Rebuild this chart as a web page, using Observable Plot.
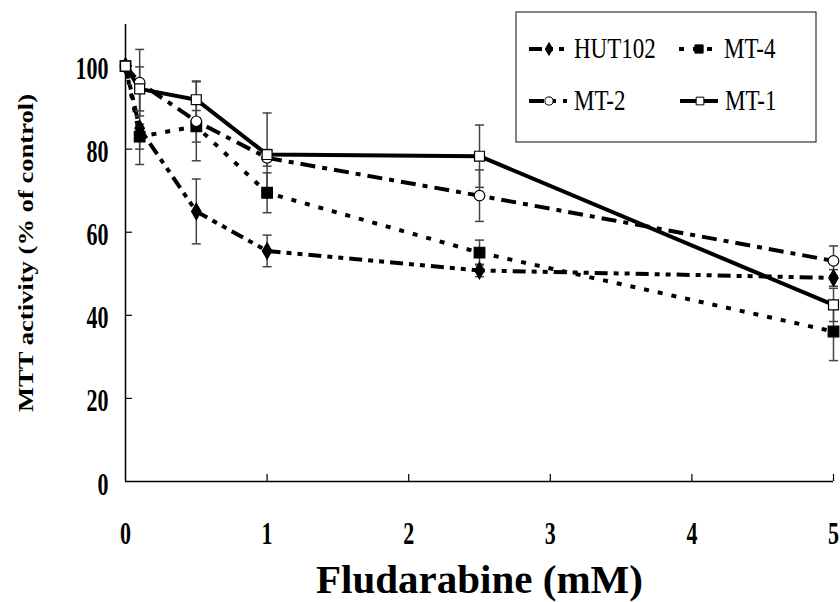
<!DOCTYPE html>
<html>
<head>
<meta charset="utf-8">
<script src="https://cdn.jsdelivr.net/npm/d3@7"></script>
<script src="https://cdn.jsdelivr.net/npm/@observablehq/plot@0.6"></script>
<style>
  html, body { margin: 0; padding: 0; background: #fff; }
  #chart { width: 840px; height: 602px; }
</style>
</head>
<body>
<div id="chart"></div>
<script>
// ---- data ----
const doses = [0, 0.1, 0.5, 1, 2.5, 5];               // Fludarabine (mM)
const hut102 = [100, 85, 65, 55.5, 50.8, 49];
const hut102Err = [0, 8.7, 7.8, 3.8, 1.5, 2];
const mt4 = [100, 83, 85.5, 69.5, 55.1, 36.1];
const mt4Err = [0, 3, 3.8, 4.8, 3, 7];
const mt2 = [100, 96, 86.7, 77.9, 68.8, 53.1];
const mt2Err = [0, 8, 9.5, 2, 6.2, 3.6];
const mt1 = [100, 94.5, 91.9, 78.7, 78.3, 42.5];
const mt1Err = [0, 5.3, 4.5, 10, 7.5, 4];
const seriesNames = ["HUT102", "MT-4", "MT-2", "MT-1"];
const xTicks = [0, 1, 2, 3, 4, 5];
const yTicks = [0, 20, 40, 60, 80, 100];
const xTitle = "Fludarabine (mM)";
const yTitle = "MTT activity (% of control)";

// ---- build table ----
const valuesBySeries = {"HUT102": [hut102, hut102Err], "MT-4": [mt4, mt4Err], "MT-2": [mt2, mt2Err], "MT-1": [mt1, mt1Err]};
const rows = [];
for (const s of seriesNames) {
  const [v, e] = valuesBySeries[s];
  doses.forEach((d, i) => rows.push({series: s, dose: d, value: v[i], err: e[i]}));
}
const errRows = rows.filter(d => d.err > 0);
const capRows = errRows.flatMap(d => [{dose: d.dose, y: d.value + d.err}, {dose: d.dose, y: d.value - d.err}]);

const styles = {
  "HUT102": {dash: "13,6,5,6,5,6", symbol: "diamond", fill: "#000", r: 5},
  "MT-4":   {dash: "5,9", symbol: "square", fill: "#000", r: 6},
  "MT-2":   {dash: "15,7,5,7", symbol: "circle", fill: "#fff", r: 5.3},
  "MT-1":   {dash: null, symbol: "square", fill: "#fff", r: 5.6}
};

const capSymbol = {draw(ctx, size) { const h = Math.sqrt(size / Math.PI); ctx.moveTo(-h, 0); ctx.lineTo(h, 0); }};

const font = "'Liberation Serif', 'Times New Roman', serif";

const marks = [
  Plot.ruleY([0], {stroke: "#000", strokeWidth: 1.5}),
  Plot.ruleX([0], {y1: 0, y2: 110, stroke: "#000", strokeWidth: 1.5}),
  Plot.ruleY(yTicks.slice(1), {x1: 0, x2: 0.05, stroke: "#000", strokeWidth: 1.2}),
  Plot.ruleX(xTicks.slice(1), {y1: 0, y2: 1.7, stroke: "#000", strokeWidth: 1.2}),
  Plot.text(yTicks, {x: 0, y: d => d, text: d => String(d), dx: -17, dy: 13, textAnchor: "end", lineAnchor: "bottom", fontSize: 22, fontWeight: "bold", fill: "#000"}),
  Plot.text(xTicks, {x: d => d, y: 0, text: d => String(d), dy: 62, textAnchor: "middle", lineAnchor: "bottom", fontSize: 22, fontWeight: "bold", fill: "#000"}),
  Plot.text([xTitle], {frameAnchor: "bottom", textAnchor: "middle", lineAnchor: "middle", dy: 98, fontSize: 41, fontWeight: "bold", fill: "#000"}),
  Plot.text([yTitle], {frameAnchor: "left", textAnchor: "middle", lineAnchor: "middle", dx: -100, rotate: -90, fontSize: 22, fontWeight: "bold", fill: "#000"})
];

for (const s of seriesNames) {
  const st = styles[s];
  marks.push(Plot.line(rows.filter(d => d.series === s), {x: "dose", y: "value", stroke: "#000", strokeWidth: 4, strokeDasharray: st.dash || undefined, strokeLinecap: "butt", strokeLinejoin: "round"}));
}
marks.push(Plot.ruleX(errRows, {x: "dose", y1: d => d.value - d.err, y2: d => d.value + d.err, stroke: "#444", strokeWidth: 1.5}));
marks.push(Plot.dot(capRows, {x: "dose", y: "y", symbol: capSymbol, r: 4.5, stroke: "#444", strokeWidth: 1.5}));
for (const s of seriesNames) {
  const st = styles[s];
  marks.push(Plot.dot(rows.filter(d => d.series === s), {x: "dose", y: "value", symbol: st.symbol, r: st.r, fill: st.fill, stroke: "#000", strokeWidth: 1.2}));
}

const svg = Plot.plot({
  width: 840,
  height: 602,
  marginLeft: 125,
  marginRight: 7,
  marginTop: 24,
  marginBottom: 121,
  style: {fontFamily: font, background: "#fff", color: "#000", overflow: "visible"},
  x: {domain: [0, 5], axis: null},
  y: {domain: [0, 110], axis: null},
  marks
});

const sel = d3.select(svg);
// stretch the rotated y title to the reference's length
sel.selectAll("text").filter(function() { return this.textContent === yTitle; })
  .attr("textLength", 318).attr("lengthAdjust", "spacingAndGlyphs");
// the reference's tick numerals are tall and narrow: stretch them vertically about their baseline
sel.selectAll("text").filter(function() { return /^\d+$/.test(this.textContent); })
  .each(function() {
    const t = this.getAttribute("transform");
    if (t && /translate/.test(t)) {
      this.setAttribute("transform", `${t} scale(1,1.4)`);
    } else {
      const y = +this.getAttribute("y") || 0;
      this.setAttribute("transform", `translate(0,${y}) scale(1,1.4) translate(0,${-y})`);
    }
  });

// ---- legend (inside the plot, top right) ----
const lg = sel.append("g").attr("font-family", font).attr("text-anchor", "start");
lg.append("rect").attr("x", 516).attr("y", 12).attr("width", 300).attr("height", 130)
  .attr("fill", "#fff").attr("stroke", "#333").attr("stroke-width", 1.2);
const legendPos = {"HUT102": [529, 49], "MT-4": [679, 49], "MT-2": [529, 101], "MT-1": [680, 101]};
for (const s of seriesNames) {
  const [lx, ly] = legendPos[s];
  const st = styles[s];
  lg.append("line").attr("x1", lx).attr("x2", lx + 38).attr("y1", ly).attr("y2", ly)
    .attr("stroke", "#000").attr("stroke-width", 4).attr("stroke-dasharray", st.dash || null);
  const size = Math.PI * st.r * st.r * 0.6;
  const typ = st.symbol === "diamond" ? d3.symbolDiamond : st.symbol === "square" ? d3.symbolSquare : d3.symbolCircle;
  lg.append("path").attr("d", d3.symbol(typ, size)()).attr("transform", `translate(${lx + 20},${ly})`)
    .attr("fill", st.fill).attr("stroke", "#000").attr("stroke-width", 1);
  lg.append("text").attr("x", lx + 45).attr("y", ly + 9).attr("font-size", 23)
    .attr("transform", `translate(0,${ly + 9}) scale(1,1.25) translate(0,${-(ly + 9)})`)
    .attr("text-anchor", "start").attr("fill", "#000").text(s);
}

document.getElementById("chart").appendChild(svg);
</script>
</body>
</html>
